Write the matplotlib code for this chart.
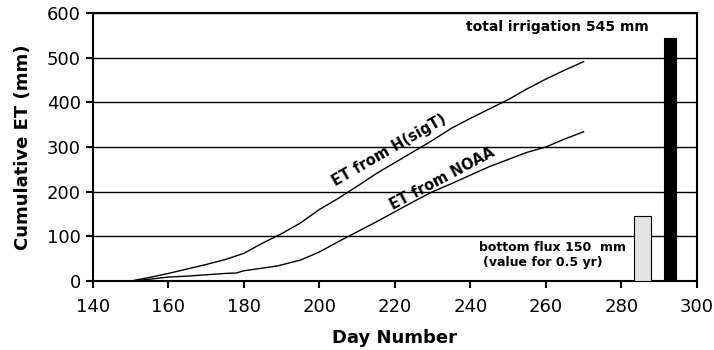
"""Cumulative ET curves with irrigation and bottom flux bars"""

import matplotlib
import matplotlib.pyplot as plt

matplotlib.use("Agg")

# cumulative ET estimated from H(sigT)
sigt_days = [150, 155, 160, 165, 170, 175, 180, 185, 190, 195, 200, 205, 210,
             215, 220, 225, 230, 235, 240, 245, 250, 255, 260, 265, 270]
sigt_et = [0, 8, 17, 27, 37, 48, 62, 85, 106, 130, 160, 185, 212,
           240, 265, 290, 315, 342, 364, 385, 406, 430, 452, 472, 491]

# cumulative ET estimated from NOAA data
noaa_days = [150, 155, 160, 165, 170, 175, 178, 180, 185, 189, 195, 200, 205,
             210, 215, 220, 225, 230, 235, 240, 245, 250, 255, 260, 265, 270]
noaa_et = [0, 4, 9, 11, 14, 17, 18, 23, 29, 34, 47, 65, 88,
           110, 132, 155, 178, 200, 218, 237, 256, 272, 288, 300, 318, 334]

flux_day, flux_value = 285.5, 146
irrig_day, irrig_value = 293, 545

x_ticks = [140, 160, 180, 200, 220, 240, 260, 280, 300]
y_ticks = [0, 100, 200, 300, 400, 500, 600]

fig = plt.figure(figsize=(7.14, 3.5), dpi=100)
ax = fig.add_axes([0.130, 0.197, 0.846, 0.766])

for y in y_ticks[1:]:
    ax.axhline(y, color="black", lw=1.0, zorder=1)

ax.plot(sigt_days, sigt_et, color="black", lw=1.0, zorder=3)
ax.plot(noaa_days, noaa_et, color="black", lw=1.0, zorder=3)

ax.bar(flux_day, flux_value, width=4.5, color="#e3e3e3", edgecolor="black",
       lw=0.8, zorder=3)
ax.bar(irrig_day, irrig_value, width=3.2, color="black", edgecolor="black",
       lw=0.8, zorder=3)

ax.text(218.5, 292, "ET from H(sigT)", rotation=30, ha="center", va="center",
        fontsize=10.5, fontweight="bold", rotation_mode="anchor")
ax.text(232.5, 228, "ET from NOAA", rotation=28, ha="center", va="center",
        fontsize=10.5, fontweight="bold", rotation_mode="anchor")
ax.text(263, 568, "total irrigation 545 mm", ha="center", va="center",
        fontsize=10, fontweight="bold")
ax.text(242.3, 74, "bottom flux 150  mm", ha="left", va="center",
        fontsize=9, fontweight="bold")
ax.text(243.3, 41, "(value for 0.5 yr)", ha="left", va="center",
        fontsize=9, fontweight="bold")

ax.set_xlim(140, 300)
ax.set_ylim(0, 600)
ax.set_xticks(x_ticks)
ax.set_yticks(y_ticks)
ax.tick_params(direction="out", length=5, width=1.5, labelsize=13)
ax.tick_params(axis="x", pad=7.5)
for side in ["left", "right", "top", "bottom"]:
    ax.spines[side].set_linewidth(1.5)

ax.set_xlabel("Day Number", fontsize=13, fontweight="bold", labelpad=9)
ax.set_ylabel("Cumulative ET (mm)", fontsize=13, fontweight="bold", labelpad=11)

fig.savefig("out.png", dpi=100)
